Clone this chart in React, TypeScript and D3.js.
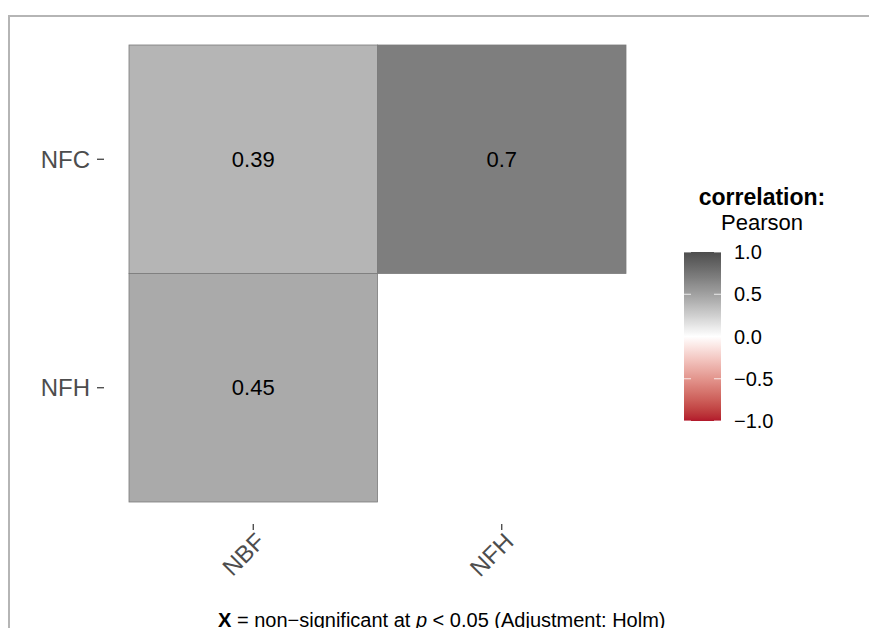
import React from "react";
import * as d3 from "d3";

// Correlation matrix (lower triangle) — Pearson coefficients
const columns = ["NBF", "NFH"];
const rows = ["NFC", "NFH"];
const cellColumn = ["NBF", "NFH", "NBF"];
const cellRow = ["NFC", "NFC", "NFH"];
const coefficients = [0.39, 0.7, 0.45];

const legendTicks = [1, 0.5, 0, -0.5, -1];
const legendTickLabels = ["1.0", "0.5", "0.0", "\u22120.5", "\u22121.0"];

const legendTitle = "correlation:";
const legendSubtitle = "Pearson";

const W = 869;
const H = 628;
const FONT = "'Liberation Sans', Arial, Helvetica, sans-serif";

const lowColor = "#B2182B";
const midColor = "#FFFFFF";
const highColor = "#4D4D4D";

function fillFor(v: number): string {
  return v >= 0
    ? d3.interpolateLab(midColor, highColor)(v)
    : d3.interpolateLab(midColor, lowColor)(-v);
}

export default function App() {
  const x = d3.scaleBand<string>().domain(columns).range([129, 626]).padding(0);
  const y = d3.scaleBand<string>().domain(rows).range([45, 502]).padding(0);

  const legendY = d3.scaleLinear().domain([1, -1]).range([252, 421]);
  const barX0 = 684;
  const barX1 = 721;
  const gradStops = d3.range(0, 41).map((i) => {
    const v = 1 - i / 20;
    return { offset: `${(i / 40) * 100}%`, color: fillFor(v) };
  });

  const cells = coefficients.map((r, i) => ({
    col: cellColumn[i],
    row: cellRow[i],
    r,
  }));

  return (
    <svg
      width={W}
      height={H}
      style={{ position: "absolute", left: 0, top: 0, background: "#fff" }}
      fontFamily={FONT}
    >
      <defs>
        <linearGradient id="corrGrad" x1="0" y1="0" x2="0" y2="1">
          {gradStops.map((s, i) => (
            <stop key={i} offset={s.offset} stopColor={s.color} />
          ))}
        </linearGradient>
      </defs>

      {/* outer frame */}
      <line x1={8} x2={W} y1={16} y2={16} stroke="#b5b5b5" strokeWidth={2} />
      <line x1={9} x2={9} y1={16} y2={H} stroke="#b5b5b5" strokeWidth={2} />

      {/* tiles */}
      {cells.map((c, i) => (
        <rect
          key={i}
          x={x(c.col)}
          y={y(c.row)}
          width={x.bandwidth()}
          height={y.bandwidth()}
          fill={fillFor(c.r)}
          stroke="#7a7a7a"
          strokeWidth={0.8}
        />
      ))}
      {cells.map((c, i) => (
        <text
          key={"t" + i}
          x={(x(c.col) as number) + x.bandwidth() / 2}
          y={(y(c.row) as number) + y.bandwidth() / 2}
          textAnchor="middle"
          dominantBaseline="central"
          fontSize={22}
          fill="#000"
        >
          {String(c.r)}
        </text>
      ))}

      {/* y axis */}
      {rows.map((r) => {
        const cy = (y(r) as number) + y.bandwidth() / 2;
        return (
          <g key={r}>
            <line x1={97} x2={104} y1={cy} y2={cy} stroke="#333" strokeWidth={1.2} />
            <text
              x={90}
              y={cy}
              textAnchor="end"
              dominantBaseline="central"
              fontSize={24}
              fill="#4d4d4d"
            >
              {r}
            </text>
          </g>
        );
      })}

      {/* x axis */}
      {columns.map((c) => {
        const cx = (x(c) as number) + x.bandwidth() / 2;
        return (
          <g key={c}>
            <line x1={cx} x2={cx} y1={524} y2={530} stroke="#333" strokeWidth={1.2} />
            <text
              transform={`translate(${cx + 1},${531}) rotate(-45)`}
              textAnchor="end"
              dy="0.72em"
              fontSize={24}
              fill="#4d4d4d"
            >
              {c}
            </text>
          </g>
        );
      })}

      {/* legend */}
      <text x={762} y={205} textAnchor="middle" fontSize={23} fontWeight="bold" fill="#000">
        {legendTitle}
      </text>
      <text x={762} y={230} textAnchor="middle" fontSize={22} fill="#000">
        {legendSubtitle}
      </text>
      <rect
        x={barX0}
        y={legendY(1)}
        width={barX1 - barX0}
        height={legendY(-1) - legendY(1)}
        fill="url(#corrGrad)"
      />
      {legendTicks.map((t, i) => {
        const ty = legendY(t);
        return (
          <g key={t}>
            <line x1={barX0} x2={barX0 + 7} y1={ty} y2={ty} stroke="#fff" strokeWidth={1} opacity={0.8} />
            <line x1={barX1 - 7} x2={barX1} y1={ty} y2={ty} stroke="#fff" strokeWidth={1} opacity={0.8} />
            <text x={734} y={ty} dominantBaseline="central" fontSize={20} fill="#000">
              {legendTickLabels[i]}
            </text>
          </g>
        );
      })}

      {/* caption */}
      <text x={218} y={627} fontSize={20} fill="#000">
        <tspan fontWeight="bold">X</tspan>
        <tspan>{" = non\u2212significant at "}</tspan>
        <tspan fontStyle="italic">p</tspan>
        <tspan>{" < 0.05 (Adjustment: Holm)"}</tspan>
      </text>
    </svg>
  );
}
